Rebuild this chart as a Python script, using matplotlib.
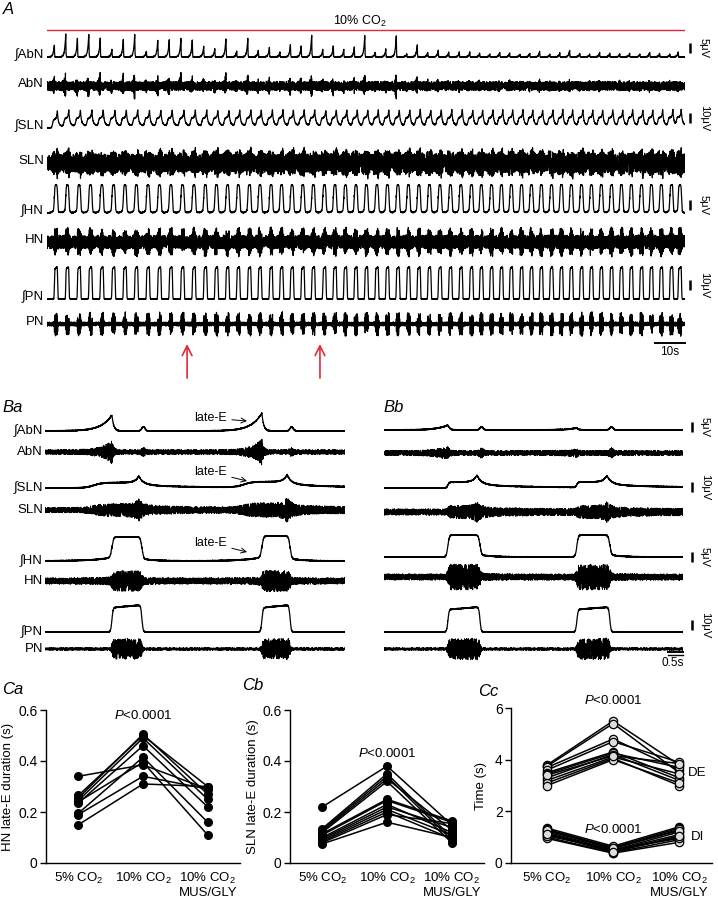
import numpy as np
import matplotlib
matplotlib.use('Agg')
import matplotlib.pyplot as plt

plt.rcParams['font.family'] = ['Liberation Sans', 'DejaVu Sans']
plt.rcParams['mathtext.fontset'] = 'custom'
plt.rcParams['mathtext.rm'] = 'Liberation Sans'
plt.rcParams['mathtext.it'] = 'Liberation Sans:italic'

W, H = 718, 901

# ---------------- data ----------------
# Panel A: centre of every inspiratory (PN) burst, s
A_BURSTS = [3.0, 6.8, 10.7, 14.5, 18.3, 22.2, 26.0, 29.8, 33.7, 37.5,
            41.3, 45.2, 49.0, 52.8, 56.5, 60.2, 63.8, 67.5, 71.0, 74.7,
            78.2, 81.7, 85.3, 88.8, 92.5, 96.0, 99.5, 103.0, 106.5, 110.0,
            113.5, 117.0, 120.5, 124.0, 127.5, 131.0, 134.5, 138.0, 141.5, 144.8,
            148.2, 151.5, 154.8, 158.2, 161.5, 164.8, 168.2, 171.5, 174.8, 178.2,
            181.5, 184.8, 188.2, 191.5, 194.8, 198.2, 201.5, 204.8, 208.2, 211.0]
A_TI = 1.1          # inspiratory burst duration, s
A_LENGTH = 212.7    # recording length shown, s
# late-E integrated AbN amplitude of each cycle, uV
A_ABN = [6.5, 11.5, 9.5, 12, 9.5, 4, 9.5, 11.5, 3, 9,
         9, 9.5, 9, 5.5, 4.5, 9.5, 3, 9.5, 3.5, 5,
         2.5, 6.5, 6, 11, 4, 6, 4, 5, 11, 2.5,
         4, 11, 1.5, 6.5, 2.5, 3.5, 2.5, 2.5, 2.5, 2,
         1.5, 2.5, 2, 1.5, 2, 3, 1.5, 2, 3.5, 2,
         1.5, 2.5, 2, 1.5, 2, 1.5, 2.5, 2, 1.5, 2.5]
A_SLN = 17.0        # uV
A_HN = 14.0         # uV
A_PN = 33.0         # uV
A_ARROWS = [46.7, 91.0]   # s

# Panel Ba / Bb: inspiratory on/offsets (s) and integrated amplitudes (uV)
BA_ON, BA_OFF = [2.23, 7.23], [3.23, 8.17]
BA_ABN_LATE, BA_ABN_POST = [8.0, 9.0], [2.0, 2.0]
BA_SLN, BA_HN, BA_PN = [12.0, 13.0], [12.0, 12.5], [27.0, 27.0]
BA_LENGTH = 10.0

BB_ON, BB_OFF = [2.13, 6.43], [3.2, 7.53]
BB_ABN_LATE, BB_ABN_POST = [2.5, 1.0], [1.5, 1.5]
BB_SLN, BB_HN, BB_PN = [13.0, 12.0], [11.0, 11.0], [25.0, 25.0]
BB_LENGTH = 9.97

# Panel C
CONDS = ['5% CO$_2$', '10% CO$_2$', '10% CO$_2$\nMUS/GLY']
HN_5 = [0.34, 0.265, 0.255, 0.245, 0.235, 0.195, 0.19, 0.15, 0.24]
HN_10 = [0.385, 0.50, 0.505, 0.49, 0.46, 0.415, 0.34, 0.31, 0.395]
HN_MG = [0.29, 0.30, 0.27, 0.25, 0.22, 0.16, 0.29, 0.30, 0.11]

SLN_5 = [0.22, 0.135, 0.13, 0.125, 0.12, 0.115, 0.11, 0.10, 0.095, 0.09, 0.085, 0.08, 0.075]
SLN_10 = [0.38, 0.35, 0.34, 0.33, 0.32, 0.25, 0.245, 0.23, 0.22, 0.21, 0.20, 0.19, 0.16]
SLN_MG = [0.15, 0.10, 0.09, 0.13, 0.08, 0.165, 0.16, 0.12, 0.14, 0.11, 0.095, 0.155, 0.10]

DE_5 = [3.8, 3.75, 3.7, 3.6, 3.5, 3.45, 3.3, 3.2, 3.1, 3.0, 3.4]
DE_10 = [5.5, 5.4, 4.8, 4.7, 4.3, 4.25, 4.2, 4.1, 4.05, 4.0, 4.15]
DE_MG = [3.8, 3.5, 3.6, 3.9, 3.3, 3.7, 3.2, 3.45, 3.0, 3.1, 3.85]
DI_5 = [1.35, 1.3, 1.25, 1.2, 1.15, 1.1, 1.0, 0.95, 1.05, 1.28, 1.12]
DI_10 = [0.65, 0.6, 0.55, 0.5, 0.48, 0.45, 0.4, 0.38, 0.52, 0.58, 0.42]
DI_MG = [1.4, 1.35, 1.3, 1.2, 1.1, 1.0, 0.9, 0.8, 0.95, 1.25, 1.05]

RED = '#e3283a'


# ---------------- trace shapes ----------------
def grain(n, seed):
    # deterministic texture for the raw nerve band
    i = np.arange(n, dtype=float)
    v = np.sin(i * 12.9898 + seed * 78.233) * 43758.5453
    return 2.0 * (v - np.floor(v)) - 1.0


def step(t, t0, tau):
    return 0.5 * (1.0 + np.tanh((t - t0) / tau))


def box(t, on, off, tau):
    return step(t, on, tau) * (1.0 - step(t, off, tau))


def shape_pn(t, on, off, amp, tau=0.04):
    y = np.zeros_like(t)
    for a, b, h in zip(on, off, amp):
        tilt = 0.9 + 0.1 * np.clip((t - a) / (b - a), 0, 1)
        y += h * box(t, a, b, tau) * tilt
    return y


def shape_hn(t, on, off, amp, pre, tau=0.05):
    y = np.zeros_like(t)
    for a, b, h in zip(on, off, amp):
        y += h * box(t, a, b, tau)
        y += pre * h * np.exp(np.clip(t - a, -60, 0) / 0.6) * (t < a)
        y += 0.1 * h * np.exp(-np.clip(t - b, 0, 60) / 0.4) * (t > b)
    return y


def shape_abn(t, on, off, late, post):
    y = np.zeros_like(t)
    for a, b, hl, hp in zip(on, off, late, post):
        dt = t - a
        y += hl * np.where(dt < 0, np.exp(np.clip(dt, -60, 0) / 0.35),
                           np.exp(-np.clip(dt, 0, 60) / 0.06))
        y += hp * np.exp(-((t - b - 0.05) / 0.08) ** 2)
    return y


def shape_sln(t, on, off, amp, lead, tau, pre=0.45, spike=0.12):
    y = np.zeros_like(t)
    for a, b, h in zip(on, off, amp):
        pk = b - 0.1
        dt = t - pk
        before = pre * h * step(t, a - lead, tau)
        d = np.clip(dt, 0, None)
        after = pre * h * (0.55 * np.exp(-d / 0.35) + 0.45 * np.exp(-d / 2.5))
        y += np.where(dt < 0, before, after) + (1 - pre) * h * np.exp(-np.abs(dt) / spike)
    return y


def draw_pair(ax, t, integ, base_int, base_raw, raw_base, raw_k, seed, lw_raw):
    n = len(t)
    ax.plot(t, base_int - integ - 0.45 * grain(n, seed), color='k', lw=0.9)
    env = raw_base + raw_k * integ
    ax.plot(t, base_raw + env * grain(n, seed + 7), color='k', lw=lw_raw)


fig = plt.figure(figsize=(W / 100, H / 100), dpi=100)


def px_box(x0, y0, x1, y1):
    return [x0 / W, 1 - y1 / H, (x1 - x0) / W, (y1 - y0) / H]


def px_text(x, y, s, **kw):
    fig.text(x / W, 1 - y / H, s, **kw)


LAB = dict(fontsize=9.5, ha='right', va='center')
ROWS = ['\u222bAbN', 'AbN', '\u222bSLN', 'SLN', '\u222bHN', 'HN', '\u222bPN', 'PN']

# ---------------- panel A ----------------
axA = fig.add_axes(px_box(47, 0, 685, 380))
axA.set_xlim(0, A_LENGTH)
axA.set_ylim(380, 0)
axA.axis('off')
tA = np.linspace(0, A_LENGTH, 6400)
c = np.array(A_BURSTS)
onA, offA = c - A_TI / 2, c + A_TI / 2
nb = len(A_BURSTS)
rowsA = [57, 86, 128, 163, 213, 242, 299, 324]
draw_pair(axA, tA, 2 * shape_abn(tA, onA, offA, A_ABN, [0] * nb), 57, 86, 4.5, 0.55, 1, 0.85)
draw_pair(axA, tA, shape_sln(tA, onA, offA, [A_SLN] * nb, 0.6, 0.3, 0.5, 0.25),
          128, 163, 7.5, 0.5, 2, 0.85)
draw_pair(axA, tA, 2 * shape_hn(tA, onA, offA, [A_HN] * nb, 0.15, 0.15), 213, 242, 6.5, 0.3, 3, 0.85)
draw_pair(axA, tA, shape_pn(tA, onA, offA, [A_PN] * nb, 0.1), 299, 324, 2.0, 0.32, 4, 0.85)
for lab, y in zip(ROWS, rowsA):
    px_text(44, y - 2, lab, **LAB)

axA.plot([0, A_LENGTH], [29.5, 29.5], color=RED, lw=1.0)
px_text(360, 21, '10% CO$_2$', fontsize=9, ha='center', va='center')
for ta in A_ARROWS:
    axA.annotate('', xy=(ta, 344), xytext=(ta, 378), annotation_clip=False,
                 arrowprops=dict(arrowstyle='->,head_length=0.7,head_width=0.35',
                                 color=RED, lw=1.2, shrinkA=0, shrinkB=0))

xbar = A_LENGTH + (690 - 685) / 3
for yc, uv, gain in [(48, 5, 2), (118, 10, 1), (205, 5, 2), (285, 10, 1)]:
    axA.plot([xbar, xbar], [yc - uv * gain / 2, yc + uv * gain / 2], color='k', lw=1.8,
             clip_on=False, solid_capstyle='butt')
    px_text(704, yc, '%d\u03bcV' % uv, fontsize=8, rotation=-90, ha='center', va='center')
axA.plot([A_LENGTH - 10, A_LENGTH], [343, 343], color='k', lw=1.4, clip_on=False)
px_text(670, 352, '10s', fontsize=8.5, ha='center', va='center')
px_text(3, 10, 'A', fontsize=12, style='italic', ha='left', va='center')


# ---------------- panel B ----------------
def panel_b(box_px, length, on, off, abn_l, abn_p, sln, hn, pn, rows, sln_lead, sln_tau,
            hn_pre, raw, seed):
    ax = fig.add_axes(px_box(*box_px))
    ax.set_xlim(0, length)
    ax.set_ylim(box_px[3], box_px[1])
    ax.axis('off')
    t = np.linspace(0, length, 4000)
    draw_pair(ax, t, 2 * shape_abn(t, on, off, abn_l, abn_p), rows[0], rows[1],
              raw[0][0], raw[0][1], seed, 0.6)
    draw_pair(ax, t, shape_sln(t, on, off, sln, sln_lead, sln_tau), rows[2], rows[3],
              raw[1][0], raw[1][1], seed + 1, 0.6)
    draw_pair(ax, t, 2 * shape_hn(t, on, off, hn, hn_pre), rows[4], rows[5],
              raw[2][0], raw[2][1], seed + 2, 0.6)
    draw_pair(ax, t, shape_pn(t, on, off, pn), rows[6], rows[7],
              raw[3][0], raw[3][1], seed + 3, 0.6)
    return ax


rowsBa = [431, 452, 488, 510, 561, 581, 632, 649]
axBa = panel_b((45, 380, 345, 670), BA_LENGTH, BA_ON, BA_OFF, BA_ABN_LATE, BA_ABN_POST,
               BA_SLN, BA_HN, BA_PN, rowsBa, 0.6, 0.3, 0.15,
               [(2.4, 0.6), (2.8, 0.75), (3.2, 0.3), (1.3, 0.36)], 11)
rowsBb = [430, 453, 488, 512, 557, 577, 632, 649]
axBb = panel_b((384, 380, 683, 670), BB_LENGTH, BB_ON, BB_OFF, BB_ABN_LATE, BB_ABN_POST,
               BB_SLN, BB_HN, BB_PN, rowsBb, 0.0, 0.05, 0.0,
               [(2.6, 1.0), (3.2, 0.6), (3.2, 0.45), (1.3, 0.4)], 21)
for lab, y in zip(ROWS, rowsBa):
    px_text(43, y, lab, **LAB)
px_text(2, 407, 'Ba', fontsize=12, style='italic', ha='left', va='center')
px_text(383, 407, 'Bb', fontsize=12, style='italic', ha='left', va='center')

for y_to, y_lab in [(421, 418), (481, 472), (552, 543)]:
    axBa.annotate('late-E', xy=(247 / 30 - 1.5, y_to), xytext=(210 / 30 - 1.5, y_lab),
                  fontsize=9, ha='center', va='center',
                  arrowprops=dict(arrowstyle='->', lw=0.7, color='k', shrinkA=2, shrinkB=0))

xbB = BB_LENGTH + (692 - 683) / 30
for yc, uv, gain in [(427, 5, 2), (487, 10, 1), (557, 5, 2), (625, 10, 1)]:
    axBb.plot([xbB, xbB], [yc - uv * gain / 2, yc + uv * gain / 2], color='k', lw=1.8,
              clip_on=False, solid_capstyle='butt')
    px_text(705, yc, '%d\u03bcV' % uv, fontsize=8, rotation=-90, ha='center', va='center')
axBb.plot([BB_LENGTH - 0.5, BB_LENGTH], [652, 652], color='k', lw=1.4, clip_on=False)
axBb.plot([BB_LENGTH - 0.5, BB_LENGTH], [655, 655], color='k', lw=1.0, clip_on=False)
px_text(673, 663, '0.5s', fontsize=8.5, ha='center', va='center')


# ---------------- panel C ----------------
def style_c(ax, ylab, yticks, ylabels, lab_x):
    for s in ['top', 'right']:
        ax.spines[s].set_visible(False)
    for s in ['left', 'bottom']:
        ax.spines[s].set_linewidth(1.0)
    ax.set_xticks([0, 1, 2])
    ax.set_xticklabels(CONDS, fontsize=9.5, linespacing=1.1)
    ax.tick_params(axis='x', length=0, pad=6)
    ax.set_yticks(yticks)
    ax.set_yticklabels(ylabels, fontsize=10)
    ax.tick_params(axis='y', length=4, width=1.0, pad=2)
    ax.set_ylabel(ylab, fontsize=9.5)
    ax.yaxis.set_label_coords(lab_x, 0.5)


def pairs(ax, a, b, c, **kw):
    for v in zip(a, b, c):
        ax.plot([0, 1, 2], v, color='k', lw=1.1, marker='o', clip_on=False, **kw)


axCa = fig.add_axes(px_box(46, 710, 240, 863))
pairs(axCa, HN_5, HN_10, HN_MG, ms=5.5)
axCa.set_xlim(-0.5, 2.5)
axCa.set_ylim(0, 0.6)
style_c(axCa, 'HN late-E duration (s)', [0, 0.2, 0.4, 0.6], ['0', '0.2', '0.4', '0.6'], -0.165)
axCa.text(1, 0.58, '$P$<0.0001', fontsize=9.5, ha='center', va='center')

axCb = fig.add_axes(px_box(290, 710, 484, 863))
pairs(axCb, SLN_5, SLN_10, SLN_MG, ms=5.5)
axCb.set_xlim(-0.5, 2.5)
axCb.set_ylim(0, 0.6)
style_c(axCb, 'SLN late-E duration (s)', [0, 0.2, 0.4, 0.6], ['0', '0.2', '0.4', '0.6'], -0.16)
axCb.text(1, 0.43, '$P$<0.0001', fontsize=9.5, ha='center', va='center')

axCc = fig.add_axes(px_box(511, 708, 712, 863))
pairs(axCc, DE_5, DE_10, DE_MG, ms=6, mfc='#dddddd', mec='k', mew=0.9)
pairs(axCc, DI_5, DI_10, DI_MG, ms=6, mfc='#dddddd', mec='k', mew=0.9)
axCc.set_xlim(-0.55, 2.5)
axCc.set_ylim(0, 6)
style_c(axCc, 'Time (s)', [0, 2, 4, 6], ['0', '2', '4', '6'], -0.12)
axCc.text(1, 6.3, '$P$<0.0001', fontsize=9.5, ha='center', va='center')
axCc.text(1, 1.28, '$P$<0.0001', fontsize=9.5, ha='center', va='center')
axCc.text(2.13, 3.48, 'DE', fontsize=9.5, ha='left', va='center')
axCc.text(2.18, 1.0, 'DI', fontsize=9.5, ha='left', va='center')

px_text(2, 689, 'Ca', fontsize=12, style='italic', ha='left', va='center')
px_text(242, 686, 'Cb', fontsize=12, style='italic', ha='left', va='center')
px_text(478, 691, 'Cc', fontsize=12, style='italic', ha='left', va='center')

fig.savefig('out.png', dpi=100)
